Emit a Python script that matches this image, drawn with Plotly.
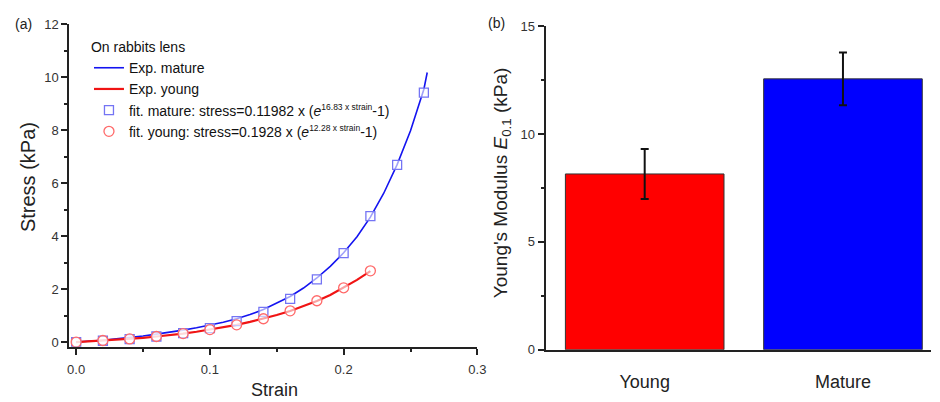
import plotly.graph_objects as go

# ---- Data ----
strain_fit_mature = [0.0, 0.02, 0.04, 0.06, 0.08, 0.10, 0.12, 0.14, 0.16, 0.18, 0.20, 0.22, 0.24, 0.26]
stress_fit_mature = [0.0, 0.05, 0.11, 0.21, 0.34, 0.53, 0.79, 1.14, 1.63, 2.37, 3.36, 4.76, 6.69, 9.42]

strain_fit_young = [0.0, 0.02, 0.04, 0.06, 0.08, 0.10, 0.12, 0.14, 0.16, 0.18, 0.20, 0.22]
stress_fit_young = [0.0, 0.06, 0.12, 0.21, 0.32, 0.47, 0.65, 0.88, 1.18, 1.56, 2.05, 2.69]

strain_exp_mature = [0.0, 0.01, 0.02, 0.03, 0.04, 0.05, 0.06, 0.07, 0.08, 0.09, 0.10, 0.11, 0.12,
                     0.13, 0.14, 0.15, 0.16, 0.17, 0.18, 0.19, 0.20, 0.21, 0.22, 0.23, 0.24, 0.25,
                     0.26, 0.2625]
stress_exp_mature = [0.0, 0.03, 0.07, 0.12, 0.17, 0.23, 0.30, 0.37, 0.45, 0.54, 0.64, 0.75, 0.88,
                     1.04, 1.23, 1.46, 1.72, 2.04, 2.42, 2.86, 3.37, 3.98, 4.72, 5.62, 6.70, 7.98,
                     9.55, 10.18]

strain_exp_young = [0.0, 0.01, 0.02, 0.03, 0.04, 0.05, 0.06, 0.07, 0.08, 0.09, 0.10, 0.11, 0.12,
                    0.13, 0.14, 0.15, 0.16, 0.17, 0.18, 0.19, 0.20, 0.21, 0.22]
stress_exp_young = [0.0, 0.03, 0.06, 0.09, 0.12, 0.16, 0.21, 0.26, 0.32, 0.39, 0.47, 0.55, 0.65,
                    0.76, 0.88, 1.02, 1.17, 1.35, 1.55, 1.78, 2.05, 2.35, 2.68]

groups = ["Young", "Mature"]
modulus = [8.15, 12.56]
modulus_err = [1.16, 1.22]
bar_colors = ["#ff0000", "#0000ff"]

FONT = "Liberation Sans, Arial, sans-serif"
AX = "#222222"
W, H = 940, 402

fig = go.Figure()

fig.add_trace(go.Scatter(x=strain_exp_mature, y=stress_exp_mature, mode="lines",
                         line=dict(color="#1414f0", width=1.6), name="Exp. mature",
                         xaxis="x", yaxis="y"))
fig.add_trace(go.Scatter(x=strain_exp_young, y=stress_exp_young, mode="lines",
                         line=dict(color="#f01414", width=2.2), name="Exp. young",
                         xaxis="x", yaxis="y"))
fig.add_trace(go.Scatter(x=strain_fit_mature, y=stress_fit_mature, mode="markers",
                         marker=dict(symbol="square", size=9, color="rgba(255,255,255,0.6)",
                                     line=dict(color="#7474f4", width=1.3)),
                         name="fit. mature: stress=0.11982 x (<i>e</i><sup><span style='font-size:8.5px'>16.83 x strain</span></sup>-1)",
                         xaxis="x", yaxis="y"))
fig.add_trace(go.Scatter(x=strain_fit_young, y=stress_fit_young, mode="markers",
                         marker=dict(symbol="circle", size=10, color="rgba(255,255,255,0.6)",
                                     line=dict(color="#ff6a6a", width=1.3)),
                         name="fit. young: stress=0.1928 x (<i>e</i><sup><span style='font-size:8.5px'>12.28 x strain</span></sup>-1)",
                         xaxis="x", yaxis="y"))

fig.add_trace(go.Bar(x=groups, y=modulus, width=0.8,
                     marker=dict(color=bar_colors, line=dict(color="#333333", width=1)),
                     error_y=dict(type="data", array=modulus_err, color="#111111",
                                  thickness=2, width=4),
                     showlegend=False, xaxis="x2", yaxis="y2"))

axis_common = dict(showline=True, linecolor=AX, linewidth=1.8, ticks="outside",
                   tickcolor=AX, tickwidth=1.5, showgrid=False, zeroline=False,
                   tickfont=dict(family=FONT, size=13, color="#333333"), mirror=False)

fig.update_layout(
    width=W, height=H,
    margin=dict(l=0, r=0, t=0, b=0),
    paper_bgcolor="white", plot_bgcolor="white",
    font=dict(family=FONT, color=AX),
    xaxis=dict(domain=[68 / W, 481 / W], range=[-0.0052, 0.3], anchor="y",
               tickvals=[0, 0.1, 0.2, 0.3], ticktext=["0.0", "0.1", "0.2", "0.3"],
               ticklen=6, ticklabelstandoff=4,
               minor=dict(tickvals=[0.05, 0.15, 0.25], ticklen=3, ticks="outside",
                          tickcolor=AX, tickwidth=1.5),
               **axis_common),
    yaxis=dict(domain=[(H - 353) / H, (H - 18) / H], range=[-0.18, 12], anchor="x",
               tickvals=[0, 2, 4, 6, 8, 10, 12], ticklen=6,
               minor=dict(tickvals=[1, 3, 5, 7, 9, 11], ticklen=3, ticks="outside",
                          tickcolor=AX, tickwidth=1.5),
               **axis_common),
    xaxis2=dict(domain=[550 / W, 1.0], range=[-0.5, 1.444], anchor="y2", type="category",
                showline=True, linecolor=AX, linewidth=1.8, ticks="", showgrid=False,
                zeroline=False, ticklabelstandoff=15,
                tickfont=dict(family=FONT, size=18, color=AX)),
    yaxis2=dict(domain=[(H - 356) / H, (H - 20) / H], range=[0, 15], anchor="x2",
                tickvals=[0, 5, 10, 15], ticklen=6,
                minor=dict(tickvals=[2.5, 7.5, 12.5], ticklen=3, ticks="outside",
                           tickcolor=AX, tickwidth=1.5),
                **axis_common),
    legend=dict(x=88 / W, y=1 - 28 / H, xanchor="left", yanchor="top",
                bgcolor="rgba(0,0,0,0)", tracegroupgap=0, itemwidth=30,
                font=dict(family=FONT, size=14, color="#111111"),
                title=dict(text="On rabbits lens", font=dict(family=FONT, size=14, color="#111111"))),
    showlegend=True,
)

annos = [
    dict(text="(a)", x=22 / W, y=1 - 18 / H, font=dict(size=14)),
    dict(text="(b)", x=500 / W, y=1 - 17 / H, font=dict(size=14)),
    dict(text="Strain", x=276 / W, y=1 - 398 / H, font=dict(size=18)),
    dict(text="Stress (kPa)", x=27 / W, y=1 - 177 / H, font=dict(size=20), textangle=-90),
    dict(text="Young's Modulus <i>E</i><sub>0.1</sub> (kPa)", x=506 / W, y=1 - 183 / H,
         font=dict(size=19), textangle=-90),
]
for a in annos:
    fig.add_annotation(xref="paper", yref="paper", showarrow=False,
                       xanchor="center", yanchor="middle",
                       x=a["x"], y=a["y"], text=a["text"], textangle=a.get("textangle", 0),
                       font=dict(family=FONT, color=AX, size=a["font"]["size"]))

fig.write_html("out.html")
